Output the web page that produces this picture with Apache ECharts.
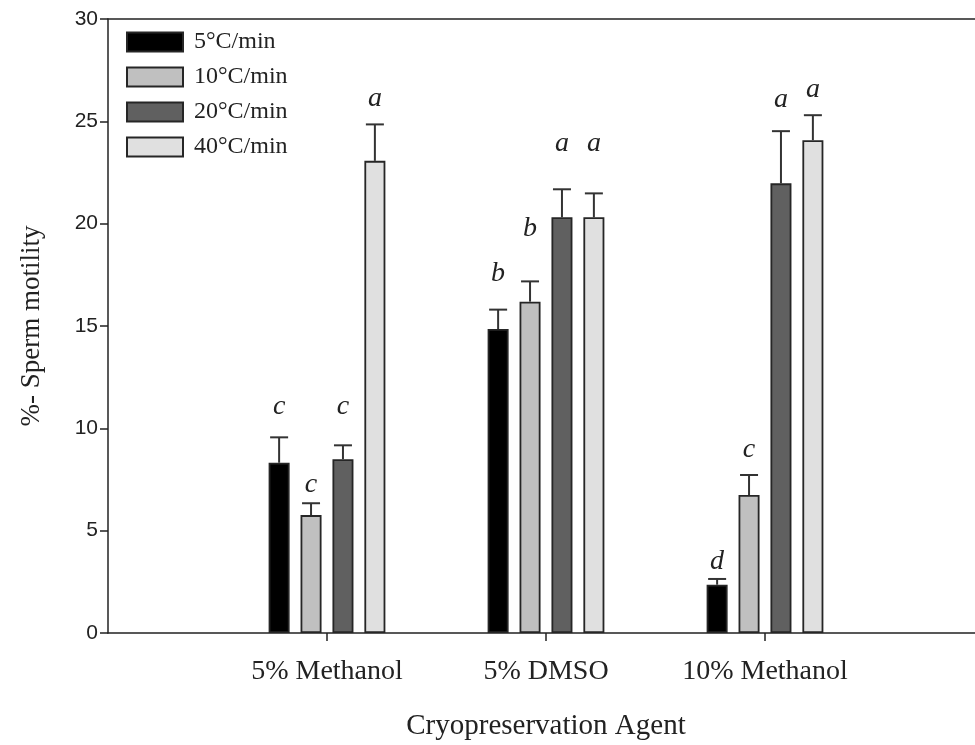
<!DOCTYPE html>
<html>
<head>
<meta charset="utf-8">
<script src="https://cdn.jsdelivr.net/npm/echarts@6/dist/echarts.min.js"></script>
<style>
html,body{margin:0;padding:0;background:#fff;}
#chart{width:975px;height:745px;}
</style>
</head>
<body>
<div id="chart"></div>
<script>
// ---- data ----
var categories = ['5% Methanol', '5% DMSO', '10% Methanol'];
var seriesNames = ['5°C/min', '10°C/min', '20°C/min', '40°C/min'];
var mean5  = [8.32, 14.85, 2.36];
var mean10 = [5.76, 16.19, 6.74];
var mean20 = [8.49, 20.31, 21.97];
var mean40 = [23.07, 20.31, 24.08];
var err5  = [1.24, 0.95, 0.28];
var err10 = [0.58, 0.99, 0.98];
var err20 = [0.68, 1.37, 2.55];
var err40 = [1.78, 1.17, 1.22];
var letters5  = ['c', 'b', 'd'];
var letters10 = ['c', 'b', 'c'];
var letters20 = ['c', 'a', 'a'];
var letters40 = ['a', 'a', 'a'];
var letterY5  = [11.06, 17.57, 3.47];
var letterY10 = [7.26, 19.74, 8.96];
var letterY20 = [11.06, 23.89, 26.07];
var letterY40 = [26.12, 23.89, 26.56];
var yTicks = [0, 5, 10, 15, 20, 25, 30];

// ---- build ----
var means = [mean5, mean10, mean20, mean40];
var errs = [err5, err10, err20, err40];
var letters = [letters5, letters10, letters20, letters40];
var letterYs = [letterY5, letterY10, letterY20, letterY40];
var colors = ['#000000', '#c0c0c0', '#606060', '#e0e0e0'];
var axisCats = [''].concat(categories).concat(['']);
var BAR_W = 21, BAR_GAP = 0.52;
var SERIF = '"Liberation Serif", "Times New Roman", serif';
var SANS = '"Liberation Sans", Arial, sans-serif';

function pad(arr) { return [null].concat(arr).concat([null]); }

var series = [];
means.forEach(function (m, s) {
  series.push({
    name: seriesNames[s],
    type: 'bar',
    data: pad(m),
    barWidth: BAR_W,
    barGap: (BAR_GAP * 100) + '%',
    itemStyle: { color: colors[s], borderColor: '#262626', borderWidth: 1.8 },
    emphasis: { disabled: true },
    silent: true
  });
});

var errData = [];
means.forEach(function (m, s) {
  m.forEach(function (v, c) {
    errData.push([c + 1, v, errs[s][c], s, letterYs[s][c], letters[s][c]]);
  });
});

series.push({
  type: 'custom',
  coordinateSystem: 'cartesian2d',
  silent: true,
  clip: false,
  encode: { x: 0, y: 1 },
  data: errData,
  renderItem: function (params, api) {
    var c = api.value(0), v = api.value(1), e = api.value(2), s = api.value(3), ly = api.value(4);
    var txt = errData[params.dataIndex][5];
    var off = (s - 1.5) * BAR_W * (1 + BAR_GAP);
    var p0 = api.coord([c, v]);
    var p1 = api.coord([c, v + e]);
    var pl = api.coord([c, ly]);
    var x = p0[0] + off;
    var half = 9;
    return {
      type: 'group',
      children: [
        { type: 'line', shape: { x1: x, y1: p0[1], x2: x, y2: p1[1] }, style: { stroke: '#333', lineWidth: 2 } },
        { type: 'line', shape: { x1: x - half, y1: p1[1], x2: x + half, y2: p1[1] }, style: { stroke: '#333', lineWidth: 2 } },
        { type: 'text', style: { text: txt, x: x, y: pl[1], textAlign: 'center', textVerticalAlign: 'middle',
            font: 'italic 28px ' + SERIF, fill: '#222' } }
      ]
    };
  }
});

var chart = echarts.init(document.getElementById('chart'), null, { renderer: 'canvas' });
chart.setOption({
  animation: false,
  backgroundColor: '#ffffff',
  grid: { left: 108, top: 19, width: 876, bottom: 112, show: false, containLabel: false, outerBoundsMode: 'none' },
  legend: {
    data: seriesNames,
    orient: 'vertical',
    left: 126,
    top: 30,
    padding: 0,
    icon: 'rect',
    itemWidth: 56,
    itemHeight: 19,
    itemGap: 11,
    selectedMode: false,
    textStyle: { fontFamily: SERIF, fontSize: 24, color: '#222', padding: [0, 0, 0, 6] }
  },
  xAxis: [{
    type: 'category',
    data: axisCats,
    boundaryGap: false,
    axisLine: { lineStyle: { color: '#222', width: 1.5 } },
    axisTick: { length: 8, lineStyle: { color: '#222', width: 1.5 },
      interval: function (i) { return i >= 1 && i <= categories.length; } },
    axisLabel: { interval: 0, margin: 25, fontFamily: SERIF, fontSize: 28, color: '#222' },
    name: 'Cryopreservation Agent',
    nameLocation: 'middle',
    nameGap: 79,
    nameTextStyle: { fontFamily: SERIF, fontSize: 29, color: '#222' },
    splitLine: { show: false }
  }, {
    type: 'category',
    data: axisCats,
    boundaryGap: false,
    position: 'top',
    axisLine: { show: true, lineStyle: { color: '#222', width: 1.5 } },
    axisTick: { show: false },
    axisLabel: { show: false },
    splitLine: { show: false }
  }],
  yAxis: {
    type: 'value',
    min: yTicks[0],
    max: yTicks[yTicks.length - 1],
    interval: yTicks[1] - yTicks[0],
    axisLine: { show: true, lineStyle: { color: '#222', width: 1.5 } },
    axisTick: { show: true, length: 8, lineStyle: { color: '#222', width: 1.5 } },
    axisLabel: { margin: 10, fontFamily: SANS, fontSize: 21, color: '#222' },
    splitLine: { show: false },
    name: '%- Sperm motility',
    nameLocation: 'middle',
    nameRotate: 90,
    nameGap: 63,
    nameTextStyle: { fontFamily: SERIF, fontSize: 27, color: '#222' }
  },
  series: series
});
</script>
</body>
</html>
